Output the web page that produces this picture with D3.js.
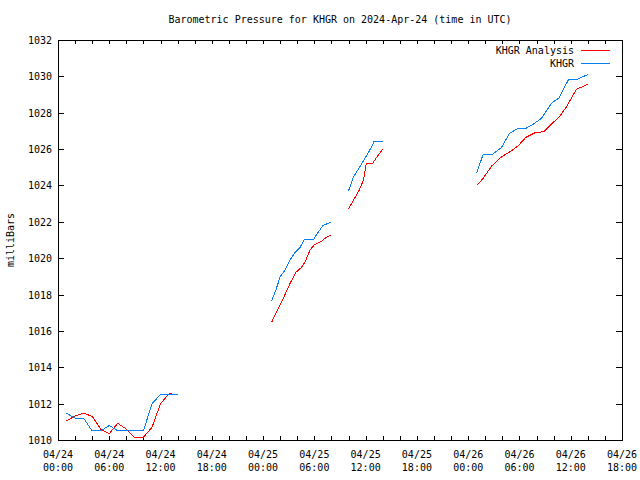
<!DOCTYPE html>
<html><head><meta charset="utf-8">
<script src="https://cdn.jsdelivr.net/npm/d3@7"></script>
<style>
html,body{margin:0;padding:0;background:#fff;}
svg text{font-family:"DejaVu Sans Mono",monospace;font-size:10px;fill:#000;}
</style></head>
<body><svg id="c" width="640" height="480"></svg>
<script>
// ---- data ----
const titleText = "Barometric Pressure for KHGR on 2024-Apr-24 (time in UTC)";
const yLabel = "milliBars";
const seriesNames = ["KHGR Analysis", "KHGR"];
const yTicks = [1010,1012,1014,1016,1018,1020,1022,1024,1026,1028,1030,1032];
const xTickLabels = ["04/24\n00:00","04/24\n06:00","04/24\n12:00","04/24\n18:00","04/25\n00:00","04/25\n06:00","04/25\n12:00","04/25\n18:00","04/26\n00:00","04/26\n06:00","04/26\n12:00","04/26\n18:00"];

// KHGR Analysis (red); null = gap in record
const analysisTimes = ["2024-04-24 01:00","2024-04-24 02:00","2024-04-24 03:00","2024-04-24 04:00","2024-04-24 05:00","2024-04-24 06:00","2024-04-24 07:00","2024-04-24 08:00","2024-04-24 09:00","2024-04-24 10:00","2024-04-24 11:00","2024-04-24 12:00","2024-04-24 13:00","2024-04-24 13:20",
 "2024-04-24 15:00",
 "2024-04-25 01:00","2024-04-25 01:35","2024-04-25 02:25","2024-04-25 03:10","2024-04-25 03:50","2024-04-25 04:30","2024-04-25 04:55","2024-04-25 05:30","2024-04-25 06:00","2024-04-25 06:45","2024-04-25 07:15","2024-04-25 08:00",
 "2024-04-25 09:00",
 "2024-04-25 10:00","2024-04-25 10:35","2024-04-25 11:15","2024-04-25 11:45","2024-04-25 12:05","2024-04-25 12:50","2024-04-25 13:20","2024-04-25 14:00",
 "2024-04-25 15:00",
 "2024-04-26 01:00","2024-04-26 01:45","2024-04-26 02:45","2024-04-26 03:55","2024-04-26 04:55","2024-04-26 05:50","2024-04-26 06:45","2024-04-26 07:50","2024-04-26 08:50","2024-04-26 09:45","2024-04-26 10:40","2024-04-26 11:30","2024-04-26 12:40","2024-04-26 14:00"];
const analysisValues = [1011.05,1011.33,1011.47,1011.3,1010.6,1010.35,1010.92,1010.6,1010.12,1010.15,1010.7,1012.0,1012.55,1012.57,
 null,
 1016.47,1017.06,1017.85,1018.62,1019.22,1019.5,1019.8,1020.45,1020.74,1020.9,1021.1,1021.28,
 null,
 1022.72,1023.2,1023.75,1024.3,1025.22,1025.22,1025.58,1026.0,
 null,
 1024.0,1024.39,1025.07,1025.58,1025.86,1026.17,1026.65,1026.9,1026.96,1027.38,1027.78,1028.33,1029.29,1029.56];

// KHGR observations (blue)
const khgrTimes = ["2024-04-24 01:00","2024-04-24 02:00","2024-04-24 03:00","2024-04-24 04:00","2024-04-24 05:00","2024-04-24 06:00","2024-04-24 07:00","2024-04-24 08:00","2024-04-24 09:00","2024-04-24 10:00","2024-04-24 11:00","2024-04-24 12:00","2024-04-24 13:00","2024-04-24 14:00",
 "2024-04-24 15:00",
 "2024-04-25 01:00","2024-04-25 01:30","2024-04-25 02:00","2024-04-25 02:35","2024-04-25 03:10","2024-04-25 03:40","2024-04-25 04:20","2024-04-25 04:50","2024-04-25 05:55","2024-04-25 06:30","2024-04-25 07:00","2024-04-25 08:00",
 "2024-04-25 09:00",
 "2024-04-25 10:00","2024-04-25 10:35","2024-04-25 11:20","2024-04-25 12:05","2024-04-25 12:50","2024-04-25 12:55","2024-04-25 14:00",
 "2024-04-25 15:00",
 "2024-04-26 01:00","2024-04-26 01:45","2024-04-26 02:50","2024-04-26 03:55","2024-04-26 04:50","2024-04-26 05:50","2024-04-26 06:45","2024-04-26 07:35","2024-04-26 08:35","2024-04-26 09:45","2024-04-26 10:40","2024-04-26 11:45","2024-04-26 12:45","2024-04-26 14:00"];
const khgrValues = [1011.47,1011.2,1011.2,1010.5,1010.5,1010.8,1010.5,1010.5,1010.5,1010.5,1012.0,1012.5,1012.5,1012.5,
 null,
 1017.65,1018.25,1018.98,1019.35,1019.9,1020.27,1020.6,1021.04,1021.04,1021.46,1021.79,1022.0,
 null,
 1023.71,1024.48,1025.03,1025.62,1026.23,1026.41,1026.41,
 null,
 1024.7,1025.71,1025.71,1026.1,1026.87,1027.14,1027.14,1027.36,1027.69,1028.52,1028.83,1029.84,1029.84,1030.1];

const seriesColors = ["#ff0000", "#0a80f0"];

// ---- chart ----
const parse = d3.utcParse("%Y-%m-%d %H:%M");
const svg = d3.select("#c");
const L = 58, R = 622, T = 40, B = 440;
const x = d3.scaleUtc().domain([parse("2024-04-24 00:00"), parse("2024-04-26 18:00")]).range([L, R]);
const y = d3.scaleLinear().domain([1010, 1032]).range([B, T]);

// ticks
const majorTimes = d3.utcHour.every(6).range(x.domain()[0], d3.utcHour.offset(x.domain()[1], 1));
const minorTimes = d3.utcHour.every(2).range(x.domain()[0], d3.utcHour.offset(x.domain()[1], 1));
const tickG = svg.append("g").attr("shape-rendering", "crispEdges").attr("stroke", "#000");
minorTimes.forEach(t => {
  const xx = Math.round(x(t)) + 0.5;
  const len = 4;
  tickG.append("line").attr("x1", xx).attr("x2", xx).attr("y1", B).attr("y2", B - len);
  tickG.append("line").attr("x1", xx).attr("x2", xx).attr("y1", T).attr("y2", T + len);
});
yTicks.forEach(v => {
  const yy = Math.round(y(v)) + 0.5;
  tickG.append("line").attr("x1", L).attr("x2", L + 6).attr("y1", yy).attr("y2", yy);
  tickG.append("line").attr("x1", R).attr("x2", R - 6).attr("y1", yy).attr("y2", yy);
});

// frame
svg.append("rect").attr("x", L + 0.5).attr("y", T + 0.5).attr("width", R - L).attr("height", B - T)
  .attr("fill", "none").attr("stroke", "#000").attr("shape-rendering", "crispEdges");

// y labels
svg.append("g").selectAll("text").data(yTicks).join("text")
  .attr("x", L - 6).attr("y", d => y(d) + 4).attr("text-anchor", "end").text(d => d);

// x labels
const xl = svg.append("g").selectAll("text").data(majorTimes).join("text")
  .attr("text-anchor", "middle");
xl.each(function(d, i) {
  const parts = xTickLabels[i].split("\n");
  const t = d3.select(this);
  t.append("tspan").attr("x", x(d)).attr("y", B + 18).text(parts[0]);
  t.append("tspan").attr("x", x(d)).attr("y", B + 31).text(parts[1]);
});

// title & axis label
svg.append("text").attr("x", 340).attr("y", 23).attr("text-anchor", "middle").text(titleText);
svg.append("text").attr("transform", "translate(14,240) rotate(-90)").attr("text-anchor", "middle").text(yLabel);

// lines
const mk = (times, vals) => times.map((t, i) => ({t: parse(t), v: vals[i]}));
const line = d3.line().defined(d => d.v !== null).x(d => x(d.t)).y(d => y(d.v));
[mk(analysisTimes, analysisValues), mk(khgrTimes, khgrValues)].forEach((data, i) => {
  svg.append("path").datum(data).attr("d", line).attr("fill", "none")
    .attr("stroke", seriesColors[i]).attr("stroke-width", 1).attr("shape-rendering", "crispEdges");
});

// legend
seriesNames.forEach((n, i) => {
  const ly = 50 + i * 13;
  svg.append("text").attr("x", 574).attr("y", ly + 4).attr("text-anchor", "end").text(n);
  svg.append("line").attr("x1", 581).attr("x2", 610).attr("y1", ly + 0.5).attr("y2", ly + 0.5)
    .attr("stroke", seriesColors[i]).attr("shape-rendering", "crispEdges");
});
</script></body></html>
